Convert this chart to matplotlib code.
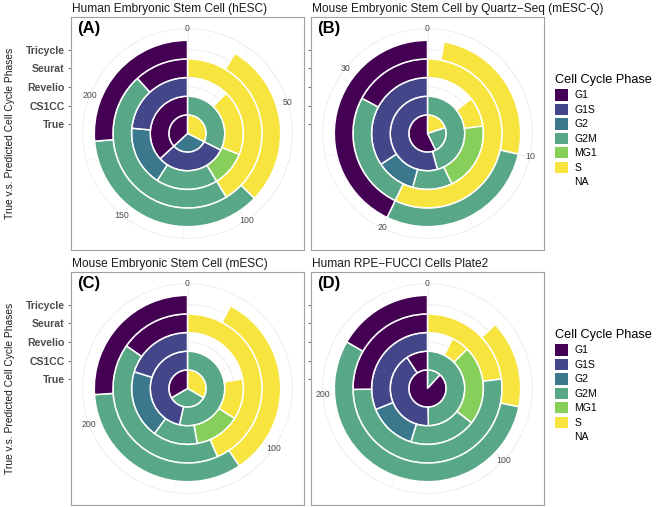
import numpy as np
import matplotlib
matplotlib.use("Agg")
import matplotlib.pyplot as plt
from matplotlib.patches import Patch

plt.rcParams['font.family'] = ['Liberation Sans', 'DejaVu Sans']

W, H = 660, 507

PHASES = ["G1", "G1S", "G2", "G2M", "MG1", "S", "NA"]
PHASE_COLORS = ["#440154", "#43478A", "#3B788D", "#58A887", "#86CF5A", "#F7E43F", None]
METHODS = ["True", "CS1CC", "Revelio", "Seurat", "Tricycle"]

# counts per method (rows = METHODS), columns in PHASES order
hesc_counts = [
    [91, 0, 76, 0, 0, 80, 0],
    [91, 76, 0, 80, 0, 0, 0],
    [0, 58, 43, 44, 25, 47, 30],
    [29, 0, 0, 116, 0, 102, 0],
    [65, 0, 0, 90, 0, 71, 21],
]
mescq_counts = [
    [20, 0, 0, 8, 0, 7, 0],
    [0, 19, 0, 16, 0, 0, 0],
    [0, 12, 4, 4, 7, 3, 5],
    [6, 0, 0, 9, 0, 20, 0],
    [15, 0, 0, 10, 0, 9, 1],
]
mesc_counts = [
    [96, 0, 0, 96, 0, 96, 0],
    [0, 134, 0, 154, 0, 0, 0],
    [0, 58, 57, 37, 38, 34, 64],
    [44, 0, 0, 119, 0, 125, 0],
    [75, 0, 0, 96, 0, 95, 22],
]
rpe_counts = [
    [238, 0, 0, 32, 0, 0, 0],
    [25, 111, 0, 134, 0, 0, 0],
    [0, 84, 38, 52, 62, 14, 20],
    [68, 0, 0, 140, 0, 62, 0],
    [45, 0, 0, 149, 0, 41, 35],
]

hesc_breaks = [0, 50, 100, 150, 200]
mescq_breaks = [0, 10, 20, 30]
mesc_breaks = [0, 100, 200]
rpe_breaks = [0, 100, 200]

GRID = "#EBEBEB"
TXT = "#4D4D4D"

fig = plt.figure(figsize=(W / 100, H / 100), dpi=100)


def draw_panel(px_left, px_top, size, title, tag, counts, breaks, show_labels):
    rect = [px_left / W, 1 - (px_top + size) / H, size / W, size / H]
    frame = fig.add_axes(rect)
    frame.set_xlim(-0.5, 0.5)
    frame.set_ylim(-0.5, 0.5)
    frame.set_xticks([])
    # ring centres r = 1..5 on the polar radius scale 0.5..6.125 (which spans 0.45 of the panel)
    frame.set_yticks([(i + 0.5) / 5.625 * 0.45 for i in range(5)])
    frame.set_yticklabels(METHODS if show_labels else [""] * 5,
                          fontweight="bold", fontsize=7.6, color=TXT)
    frame.tick_params(axis="y", length=2.5, width=0.6, color="#555555", pad=2)
    for sp in frame.spines.values():
        sp.set_color("#A0A0A0")
        sp.set_linewidth(0.8)
    frame.text(0.025, 0.95, tag, transform=frame.transAxes, fontsize=12,
               fontweight="bold", ha="left", va="center", color="black")
    fig.text(rect[0] + 1 / W, rect[1] + rect[3] + 8 / H, title, fontsize=8.6,
             ha="left", va="center", color="#1A1A1A")
    if show_labels:
        fig.text(10 / W, rect[1] + rect[3] / 2, "True v.s. Predicted Cell Cycle Phases",
                 rotation=90, fontsize=7.4, ha="center", va="center", color="#1A1A1A")

    l, b, w, h = rect
    pax = fig.add_axes([l + 0.05 * w, b + 0.05 * h, 0.9 * w, 0.9 * h], projection="polar")
    pax.set_theta_zero_location("N")
    pax.set_theta_direction(-1)
    pax.set_ylim(0.5, 6.125)
    pax.set_facecolor("none")
    pax.set_axisbelow(True)

    total = sum(counts[0])
    to_theta = lambda c: 2 * np.pi * np.asarray(c, dtype=float) / total

    for i, row in enumerate(counts):
        start = 0.0
        # stacking order clockwise: last factor level first
        for k in range(len(PHASES) - 1, -1, -1):
            c = row[k]
            if c == 0:
                continue
            wdt = to_theta(c)
            if PHASE_COLORS[k] is not None:
                pax.bar(start + wdt / 2, 1.0, width=wdt, bottom=i + 0.5,
                        color=PHASE_COLORS[k], edgecolor="white", linewidth=1.1,
                        zorder=3)
            start += wdt

    major = to_theta(breaks)
    step = breaks[1] - breaks[0]
    minor = to_theta([b_ + step / 2 for b_ in breaks if b_ + step / 2 < total])
    pax.set_xticks(major)
    pax.set_xticks(minor, minor=True)
    pax.set_xticklabels([])
    pax.set_yticks([1, 2, 3, 4, 5])
    pax.set_yticklabels([])
    pax.xaxis.grid(True, which="major", color=GRID, linewidth=0.6)
    pax.xaxis.grid(True, which="minor", color=GRID, linewidth=0.35)
    pax.yaxis.grid(True, color=GRID, linewidth=0.6)
    pax.tick_params(axis="x", which="both", length=0)
    pax.spines["polar"].set_color(GRID)
    pax.spines["polar"].set_linewidth(0.6)
    for t, lab in zip(major, breaks):
        pax.text(t, 6.125, str(lab), fontsize=6.3, color=TXT,
                 ha="center", va="center", zorder=4)


draw_panel(71, 17, 233, "Human Embryonic Stem Cell (hESC)", "(A)",
           hesc_counts, hesc_breaks, True)
draw_panel(311, 17, 233, "Mouse Embryonic Stem Cell by Quartz\u2212Seq (mESC-Q)", "(B)",
           mescq_counts, mescq_breaks, False)
draw_panel(71, 272, 233, "Mouse Embryonic Stem Cell (mESC)", "(C)",
           mesc_counts, mesc_breaks, True)
draw_panel(311, 272, 233, "Human RPE\u2212FUCCI Cells Plate2", "(D)",
           rpe_counts, rpe_breaks, False)

handles = []
for ph, col in zip(PHASES, PHASE_COLORS):
    if col is None:
        handles.append(Patch(facecolor="none", edgecolor="none", label=ph))
    else:
        handles.append(Patch(facecolor=col, edgecolor="none", label=ph))

for top in (72, 327):
    leg = fig.legend(handles=handles, title="Cell Cycle Phase",
                     loc="upper left", bbox_to_anchor=(553 / W, 1 - top / H),
                     frameon=False, fontsize=7.5, title_fontsize=9.2,
                     handlelength=1.25, handleheight=1.3, labelspacing=0.3,
                     handletextpad=0.6, borderaxespad=0, borderpad=0.2)
    leg._legend_box.align = "left"

fig.savefig("out.png", dpi=100)
